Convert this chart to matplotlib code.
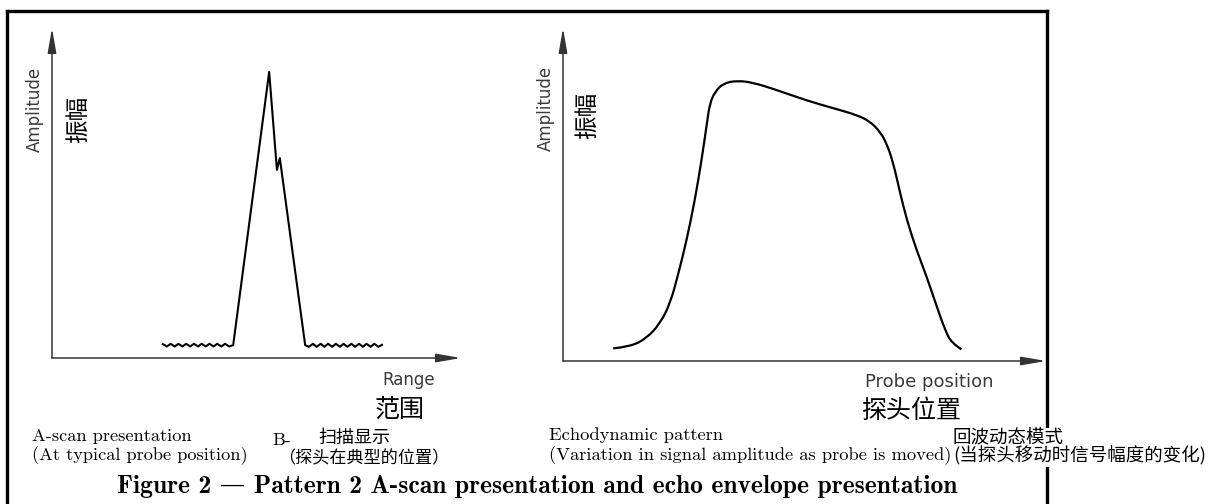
import matplotlib
matplotlib.use("Agg")
import matplotlib.pyplot as plt
from matplotlib.lines import Line2D
from matplotlib.path import Path
from matplotlib.patches import PathPatch

# ---------------- data ----------------
# A-scan trace (left panel): noise, echo peak, noise
ascan_x = [27.1, 28.1, 29.0, 30.0, 30.9, 31.9, 32.8, 33.8, 34.7, 35.7, 36.6, 37.6,
           38.5, 39.5, 40.4, 41.4, 42.3, 43.3, 44.3,
           53.1, 54.8, 55.0, 55.7,
           61.9, 62.8, 63.8, 64.7, 65.7, 66.6, 67.5, 68.5, 69.4, 70.4, 71.3, 72.2,
           73.2, 74.1, 75.1, 76.0, 76.9, 77.9, 78.8, 79.8, 80.7]
ascan_y = [4.2, 3.5, 4.3, 3.5, 4.3, 3.5, 4.3, 3.5, 4.3, 3.5, 4.3, 3.5,
           4.3, 3.5, 4.3, 3.5, 4.3, 3.5, 3.9,
           86.7, 60.0, 57.0, 60.6,
           3.9, 3.4, 4.3, 3.4, 4.3, 3.4, 4.3, 3.4, 4.3, 3.4, 4.3, 3.4,
           4.3, 3.4, 4.3, 3.4, 4.3, 3.4, 4.3, 3.4, 4.0]

# Echodynamic envelope (right panel)
echo_x = [10.4, 13.9, 17.3, 20.1, 22.2, 23.9, 25.6, 27.3, 28.7, 29.8, 30.4, 31.5,
          33.2, 36.0, 39.4, 44.2, 50.5, 56.0, 60.8, 63.6, 65.6, 67.0, 68.4, 69.8,
          71.2, 73.2, 75.3, 77.4, 79.1, 80.5, 82.5]
echo_y = [3.8, 4.3, 6.8, 11.3, 17.3, 26.3, 36.3, 48.3, 60.4, 71.4, 77.4, 80.9,
          83.4, 84.2, 83.6, 81.4, 78.2, 75.9, 73.9, 71.9, 68.9, 65.4, 59.4, 50.4,
          42.3, 33.3, 25.3, 16.3, 9.3, 5.3, 3.5]

y_label_en = "Amplitude"
y_label_cn = "振幅"
left_x_en, left_x_cn = "Range", "范围"
right_x_en, right_x_cn = "Probe position", "探头位置"
left_cap = ["A-scan presentation", "(At typical probe position)"]
left_cap_cn = ["B-", "扫描显示", "（探头在典型的位置）"]
right_cap = ["Echodynamic pattern", "(Variation in signal amplitude as probe is moved)"]
right_cap_cn = ["回波动态模式", "(当探头移动时信号幅度的变化)"]
title = "Figure 2 — Pattern 2 A-scan presentation and echo envelope presentation"

# ---------------- layout ----------------
W, H = 1212, 504
fig = plt.figure(figsize=(W / 100, H / 100), dpi=100)
fig.patch.set_facecolor("white")


def fx(px):
    return px / W


def fy(py):
    return 1 - py / H


CN = ["Noto Sans CJK SC", "DejaVu Sans"]
SERIF = ["cmr10", "DejaVu Serif"]
SERIF_B = ["cmb10", "DejaVu Serif"]
LAB = "#3a3a3a"

# frame
fl = dict(color="black", lw=2.4, transform=fig.transFigure, zorder=1,
          solid_capstyle="projecting")
fig.add_artist(Line2D([fx(7), fx(7)], [fy(11), 0], **fl))
fig.add_artist(Line2D([fx(7), fx(1047)], [fy(11), fy(11)], **fl))
fig.add_artist(Line2D([fx(1047), fx(1047)], [fy(11), 0], **fl))


def make_axes(px0, py_top, px1, py_bot):
    ax = fig.add_axes([fx(px0), fy(py_bot), fx(px1) - fx(px0), fy(py_top) - fy(py_bot)])
    ax.set_xlim(0, 100)
    ax.set_ylim(0, 100)
    ax.axis("off")
    ap = dict(arrowstyle="-|>,head_length=1.5,head_width=0.26", color="#333333",
              lw=1.1, shrinkA=0, shrinkB=0, mutation_scale=10)
    ax.annotate("", xy=(1, 0), xytext=(0, 0), xycoords="axes fraction", arrowprops=ap)
    ax.annotate("", xy=(0, 1), xytext=(0, 0), xycoords="axes fraction", arrowprops=ap)
    return ax


def smooth_path(xs, ys):
    # quadratic Bezier through midpoints, using the data points as control points
    pts = list(zip(xs, ys))
    verts = [pts[0]]
    codes = [Path.MOVETO]
    for i in range(1, len(pts) - 1):
        mid = ((pts[i][0] + pts[i + 1][0]) / 2, (pts[i][1] + pts[i + 1][1]) / 2)
        if i == len(pts) - 2:
            mid = pts[-1]
        verts += [pts[i], mid]
        codes += [Path.CURVE3, Path.CURVE3]
    return Path(verts, codes)


axL = make_axes(52, 28, 461, 358)
axL.plot(ascan_x, ascan_y, color="black", lw=1.5, solid_joinstyle="round")

axR = make_axes(563, 28, 1046, 361)
axR.add_patch(PathPatch(smooth_path(echo_x, echo_y), facecolor="none",
                        edgecolor="black", lw=1.6))

# axis labels
fig.text(fx(35), fy(109), y_label_en, rotation=90, ha="center", va="center",
         fontsize=12, color=LAB, family="DejaVu Sans")
fig.text(fx(78), fy(119), y_label_cn, rotation=90, ha="center", va="center",
         fontsize=17, family=CN, fontweight="light")
fig.text(fx(546), fy(108), y_label_en, rotation=90, ha="center", va="center",
         fontsize=12, color=LAB, family="DejaVu Sans")
fig.text(fx(587), fy(115), y_label_cn, rotation=90, ha="center", va="center",
         fontsize=17, family=CN, fontweight="light")

fig.text(fx(382), fy(380), left_x_en, ha="left", va="center", fontsize=12,
         color=LAB, family="DejaVu Sans")
fig.text(fx(400), fy(410), left_x_cn, ha="center", va="center", fontsize=18,
         family=CN, fontweight="light")
fig.text(fx(865), fy(382), right_x_en, ha="left", va="center", fontsize=13,
         color=LAB, family="DejaVu Sans")
fig.text(fx(911), fy(411), right_x_cn, ha="center", va="center", fontsize=18,
         family=CN, fontweight="light")

# captions
fig.text(fx(32), fy(436), left_cap[0], ha="left", va="center", fontsize=13.2, family=SERIF)
fig.text(fx(32), fy(456), left_cap[1], ha="left", va="center", fontsize=13.2, family=SERIF)
fig.text(fx(272), fy(440), left_cap_cn[0], ha="left", va="center", fontsize=13, family=SERIF)
fig.text(fx(318), fy(438), left_cap_cn[1], ha="left", va="center", fontsize=13,
         family=CN, fontweight="light")
fig.text(fx(278), fy(458), left_cap_cn[2], ha="left", va="center", fontsize=12.3,
         family=CN, fontweight="light")

fig.text(fx(549), fy(435), right_cap[0], ha="left", va="center", fontsize=13.3, family=SERIF)
fig.text(fx(549), fy(456), right_cap[1], ha="left", va="center", fontsize=13.3, family=SERIF)
bb = dict(facecolor="white", edgecolor="none", pad=1.0)
fig.text(fx(953), fy(438), right_cap_cn[0], ha="left", va="center", fontsize=13.3,
         family=CN, fontweight="light", bbox=bb, zorder=5)
fig.text(fx(953), fy(456), right_cap_cn[1], ha="left", va="center", fontsize=13.3,
         family=CN, fontweight="light", bbox=bb, zorder=5)

fig.text(fx(537), fy(487), title, ha="center", va="center", fontsize=18.4,
         family=SERIF_B)

fig.savefig("out.png", dpi=100, facecolor="white")
